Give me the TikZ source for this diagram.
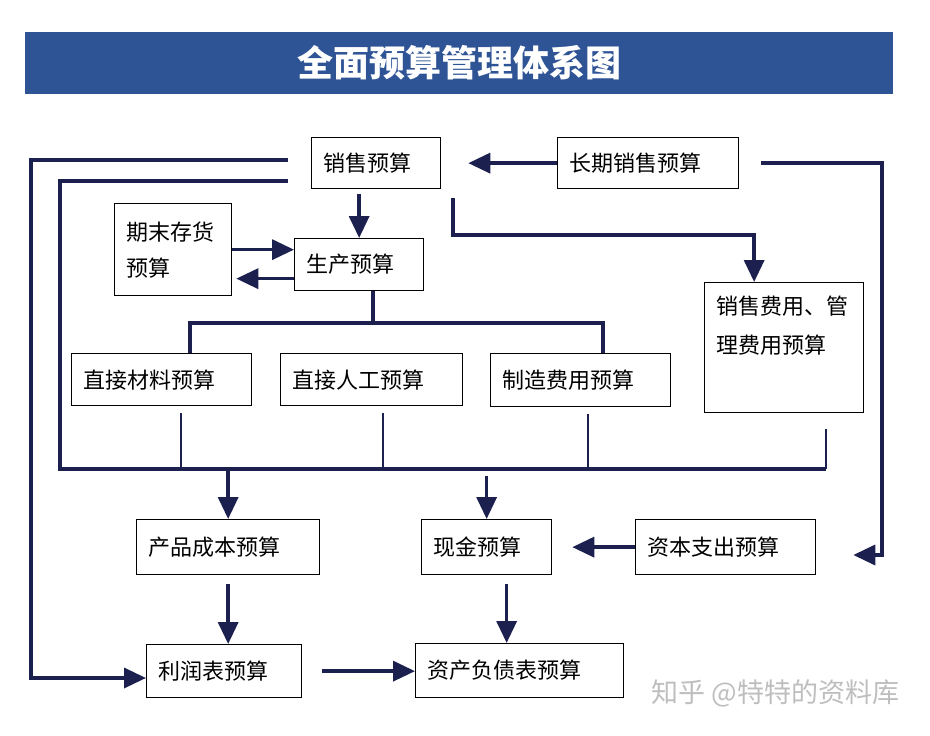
\documentclass[tikz,border=0pt]{standalone}
\usepackage{fontspec}
\newfontfamily\cjk{Noto Sans CJK SC}
\usetikzlibrary{arrows.meta}
\definecolor{navy}{RGB}{28,32,78}
\definecolor{titleblue}{RGB}{46,84,150}
\definecolor{markgray}{RGB}{190,190,190}

\begin{document}
\begin{tikzpicture}[x=1pt, y=-1pt,
    box/.style={shape=rectangle, draw=black, line width=1.3pt, fill=white,
      anchor=north west, inner xsep=12pt, align=left,
      font=\cjk\fontsize{22}{26}\selectfont},
    link/.style={draw=navy, line width=3.5pt},
    arr/.style={link, -{Triangle[length=22pt, width=20pt]}},
    stub/.style={draw=navy, line width=2.4pt}]
  \useasboundingbox (0,0) rectangle (930,736);

  % title
  \node[fill=titleblue, minimum width=868pt, minimum height=62pt, anchor=north west,
    inner sep=0pt, text=white, font=\cjk\bfseries\fontsize{36}{40}\selectfont]
  at (25,32) (title) {全面预算管理体系图};

  % nodes
  \node[box, text width=105pt, minimum height=51pt] at (311,137)
  (sales) {销售预算};
  \node[box, text width=157pt, minimum height=51pt] at (557,137)
  (long) {长期销售预算};
  \node[box, text width=93pt, minimum height=92pt, font=\cjk\fontsize{22}{36}\selectfont] at (114,203)
  (inv) {期末存货\\预算};
  \node[box, text width=105pt, minimum height=52pt] at (294,238)
  (prod) {生产预算};
  \node[box, text width=156pt, minimum height=52pt] at (71,353)
  (mat) {直接材料预算};
  \node[box, text width=158pt, minimum height=52pt] at (280,353)
  (lab) {直接人工预算};
  \node[box, text width=156pt, minimum height=53pt] at (490,353)
  (mfg) {制造费用预算};
  \node[box, text width=135pt, inner ysep=13pt, text height=19pt, text depth=85pt,
    font=\cjk\fontsize{22}{39}\selectfont] at (704,282)
  (exp) {销售费用、管\\理费用预算};
  \node[box, text width=159pt, minimum height=55pt] at (136,519)
  (cost) {产品成本预算};
  \node[box, text width=106pt, minimum height=55pt] at (421,519)
  (cash) {现金预算};
  \node[box, text width=156pt, minimum height=55pt] at (635,519)
  (capex) {资本支出预算};
  \node[box, text width=131pt, minimum height=53pt] at (146,644)
  (inc) {利润表预算};
  \node[box, text width=184pt, minimum height=54pt] at (415,643)
  (bal) {资产负债表预算};

  \node[text=markgray, font=\cjk\fontsize{27}{30}\selectfont, anchor=west] at (648,693)
  (mark) {知乎 @特特的资料库};

  % bends and bus
  \coordinate (outerL) at (31,678);
  \coordinate (busL) at (60,469);
  \coordinate (busR) at (826,469);
  \coordinate (b1) at (181,469);
  \coordinate (b2) at (383,469);
  \coordinate (b3) at (588,469);
  \coordinate (brL) at (190,323);
  \coordinate (brR) at (603,323);
  \coordinate (junc) at (373,323);
  \coordinate (turn) at (453,235);
  \coordinate (rc) at (882,555);

  % arcs
  \draw[arr, shorten >=27pt] (long.west) -- (sales.east);
  \draw[arr, shorten <=5pt] (prod.north |- sales.south) -- (prod.north);
  \draw[arr] (inv.east) -- (inv.east -| prod.west);
  \draw[arr, shorten >=4pt] ([yshift=-14pt]prod.west) -- ([yshift=-14pt]prod.west -| inv.east);

  \draw[link] (prod.south -| junc) -- (junc);
  \draw[link] (mat.north -| brL) -- (brL) -- (brR) -- (mfg.north -| brR);

  \draw[arr, shorten <=23pt] ([yshift=3pt]sales.west) -| (outerL) -- (outerL -| inc.west);
  \draw[link, shorten <=23pt] ([yshift=-18pt]sales.west) -| (busL) -- (busR);
  \foreach \b/\n in {b1/mat, b2/lab, b3/mfg}
    \draw[stub, shorten <=7pt] (\b |- \n.south) -- (\b);
  \draw[stub, shorten <=16pt] (busR |- exp.south) -- (busR);

  \draw[arr] (busL -| cost.north) -- (cost.north);
  \draw[arr, shorten <=7pt] (busL -| cash.north) -- (cash.north);
  \draw[arr, shorten >=20pt] (capex.west) -- (cash.east);
  \draw[arr, shorten <=22pt, shorten >=37pt] (long.east) -| (rc) -- (rc -| capex.east);
  \draw[arr, shorten <=9pt] (turn |- sales.south) -- (turn) -| ([xshift=-30pt]exp.north);

  \draw[arr, shorten <=9pt] (cost.south) -- (cost.south |- inc.north);
  \draw[arr, shorten <=9pt] ([xshift=20pt]cash.south) -- ([xshift=20pt]cash.south |- bal.north);
  \draw[arr, shorten <=20pt] (inc.east) -- (inc.east -| bal.west);
\end{tikzpicture}
\end{document}
